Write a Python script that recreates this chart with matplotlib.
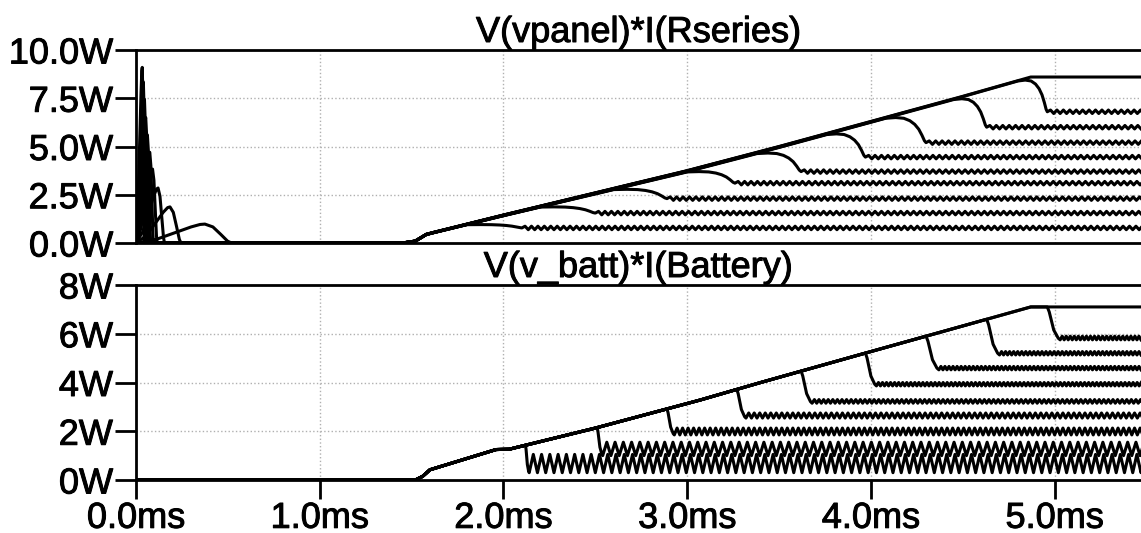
import numpy as np
import matplotlib.pyplot as plt
import matplotlib.patheffects as pe

plt.rcParams['font.family'] = ['Liberation Sans', 'DejaVu Sans']

######################################################################
t_end = 5.47  # ms, right edge of the plot

# --- top panel: V(vpanel)*I(Rseries), 10 stepped traces ---
top_title = "V(vpanel)*I(Rseries)"
top_yticks = [0.0, 2.5, 5.0, 7.5, 10.0]
top_ylabels = ["0.0W", "2.5W", "5.0W", "7.5W", "10.0W"]

# start-up spikes near t=0 (peak time, peak height, end time)
spike_t = [0.375, 0.185, 0.12, 0.09, 0.075, 0.062, 0.053, 0.046, 0.04, 0.034]
spike_h = [0.98, 1.87, 2.85, 3.83, 4.7, 5.6, 6.5, 7.45, 8.35, 9.1]
spike_end = [0.52, 0.245, 0.155, 0.115, 0.095, 0.08, 0.07, 0.06, 0.052, 0.045]

# common ramp
ramp_t = [1.45, 1.52, 1.58, 1.62, 2.0, 2.5, 3.0, 3.5, 4.0, 4.5, 4.87]
ramp_w = [0.0, 0.1, 0.45, 0.55, 1.45, 2.6, 3.75, 5.0, 6.3, 7.6, 8.6]
ramp_scale = [0.972, 0.975, 0.978, 0.982, 0.986, 0.99, 0.993, 0.995, 0.998, 1.0]

# where each trace leaves the ramp and the level it settles at
t_depart = [1.8, 2.2, 2.6, 3.0, 3.38, 3.76, 4.08, 4.45, 4.8]
t_plat = [2.1, 2.5, 2.89, 3.26, 3.62, 3.97, 4.3, 4.63, 4.96]
plat = [0.78, 1.55, 2.3, 3.1, 3.7, 4.45, 5.2, 6.0, 6.8]
top_flat = 8.6
top_ripple = 0.18
top_period = 0.035

# --- bottom panel: V(v_batt)*I(Battery) ---
bot_title = "V(v_batt)*I(Battery)"
bot_yticks = [0, 2, 4, 6, 8]
bot_ylabels = ["0W", "2W", "4W", "6W", "8W"]

bramp_t = [1.52, 1.56, 1.6, 1.96, 2.03, 2.5, 3.07, 3.4, 4.0, 4.5, 4.87]
bramp_w = [0.0, 0.15, 0.42, 1.25, 1.26, 2.13, 3.28, 4.0, 5.27, 6.32, 7.1]
b_drop_t = [2.12, 2.51, 2.89, 3.27, 3.62, 3.97, 4.3, 4.63, 4.96]
b_drop_len = [0.02, 0.03, 0.04, 0.05, 0.06, 0.06, 0.07, 0.07, 0.07]
b_low = [0.3, 1.0, 1.85, 2.54, 3.15, 3.86, 4.52, 5.13, 5.75]
b_high = [1.05, 1.55, 2.13, 2.75, 3.3, 4.0, 4.66, 5.27, 5.9]
b_period = [0.045, 0.045, 0.03, 0.03, 0.025, 0.022, 0.022, 0.022, 0.022]
bot_flat = 7.1

xticks = [0, 1, 2, 3, 4, 5]
xlabels = ["0.0ms", "1.0ms", "2.0ms", "3.0ms", "4.0ms", "5.0ms"]
######################################################################


def ripple(t0, lo, hi, period):
    # zig-zag between lo and hi until the right edge
    n = int((t_end - t0) / (period / 2)) + 2
    ts = t0 + np.arange(n) * period / 2
    ws = np.where(np.arange(n) % 2 == 0, lo, hi)
    return list(ts), list(ws)


def top_trace(k):
    tp, h, te = spike_t[k], spike_h[k], spike_end[k]
    t = [0, 0.3 * tp, 0.8 * tp, 0.93 * tp, tp,
         tp + 0.3 * (te - tp), tp + 0.6 * (te - tp), tp + 0.85 * (te - tp), te]
    w = [0, 0.2 * h, 0.85 * h, 0.98 * h, h, 0.85 * h, 0.45 * h, 0.1 * h, 0]
    rw = [v * ramp_scale[k] for v in ramp_w]
    if k == 9:
        t += ramp_t + [t_end]
        w += rw + [top_flat]
        return t, w
    td = t_depart[k]
    keep = [i for i, x in enumerate(ramp_t) if x < td]
    t += [ramp_t[i] for i in keep]
    w += [rw[i] for i in keep]
    hd = np.interp(td, ramp_t, rw)
    p = plat[k]
    # hump then roll-off to the plateau
    u = [0, 0.25, 0.45, 0.6, 0.72, 0.82, 0.9, 0.96, 1.0]
    f = [1, 1.03, 1.0, 0.9, 0.75, 0.55, 0.3, 0.08, 0]
    dur = t_plat[k] - td
    t += [td + a * dur for a in u]
    w += [p + (hd - p) * b for b in f]
    rt, rv = ripple(t_plat[k], p - top_ripple / 2, p + top_ripple / 2, top_period)
    t += rt[1:]
    w += rv[1:]
    return t, w


def bot_trace(k):
    t = [0.0]
    w = [0.0]
    if k == 9:
        t += bramp_t + [t_end]
        w += bramp_w + [bot_flat]
        return t, w
    td = b_drop_t[k]
    keep = [i for i, x in enumerate(bramp_t) if x < td]
    t += [bramp_t[i] for i in keep]
    w += [bramp_w[i] for i in keep]
    hd = np.interp(td, bramp_t, bramp_w)
    lo, hi = b_low[k], b_high[k]
    dl = b_drop_len[k]
    t += [td, td + 0.15 * dl, td + 0.5 * dl, td + 0.85 * dl]
    w += [hd, hd - 0.15 * (hd - lo), hd - 0.7 * (hd - lo), lo + 0.05 * (hd - lo)]
    rt, rv = ripple(td + dl, lo, hi, b_period[k])
    t += rt
    w += rv
    return t, w


fig = plt.figure(figsize=(11.41, 5.33), dpi=100)
ax1 = fig.add_axes([136 / 1141, 290 / 533, 1005 / 1141, 193 / 533])
ax2 = fig.add_axes([136 / 1141, 53 / 533, 1005 / 1141, 195 / 533])

for k in range(10):
    t, w = top_trace(k)
    ax1.plot(t, w, color="black", lw=2.2, solid_joinstyle="round")
    t, w = bot_trace(k)
    ax2.plot(t, w, color="black", lw=2.2, solid_joinstyle="round")

heavy = [pe.withStroke(linewidth=0.7, foreground="black")]

for ax, title, yt, yl, ymax in [(ax1, top_title, top_yticks, top_ylabels, 10),
                                (ax2, bot_title, bot_yticks, bot_ylabels, 8)]:
    ax.set_xlim(0, t_end)
    ax.set_ylim(0, ymax)
    ax.set_yticks(yt)
    ax.set_yticklabels(yl)
    ax.set_xticks(xticks)
    ax.set_title(title, fontsize=26, pad=5, path_effects=heavy)
    ax.spines["right"].set_visible(False)
    for s in ["left", "top", "bottom"]:
        ax.spines[s].set_linewidth(2)
        ax.spines[s].set_color("black")
    ax.grid(True, color="#b0b0b0", linestyle=":", linewidth=1)
    ax.tick_params(axis="y", direction="out", length=15, width=2, pad=1.5, labelsize=26)
    for lab in ax.get_yticklabels():
        lab.set_path_effects(heavy)

ax1.tick_params(axis="x", length=0, labelbottom=False)
ax2.set_xticklabels(xlabels)
ax2.tick_params(axis="x", direction="out", length=14, width=2, pad=1, labelsize=26)
for lab in ax2.get_xticklabels():
    lab.set_path_effects(heavy)

plt.savefig("out.png", dpi=100)
